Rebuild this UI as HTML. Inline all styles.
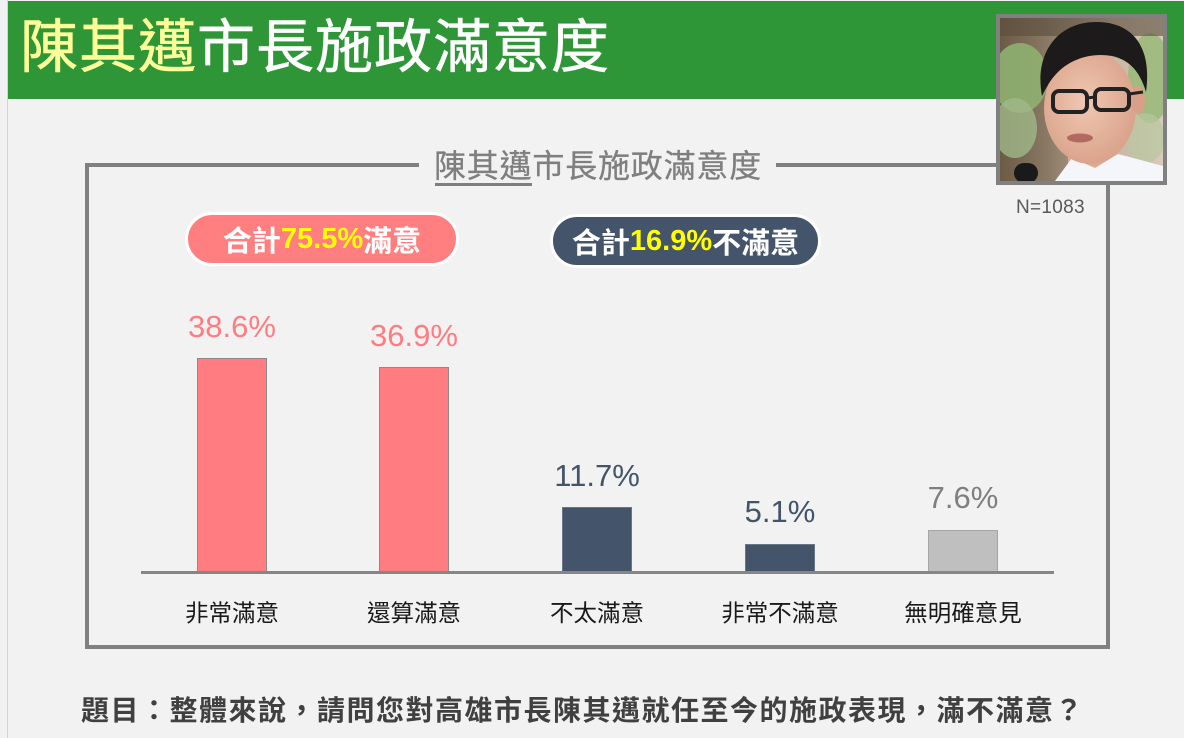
<!DOCTYPE html>
<html><head><meta charset="utf-8">
<style>
*{margin:0;padding:0;box-sizing:border-box}
html,body{width:1184px;height:738px;overflow:hidden;background:#f2f2f2}
body{position:relative;font-family:"Liberation Sans","Noto Sans CJK TC",sans-serif}
.a{position:absolute}
.t{position:absolute;white-space:nowrap;font-family:"Liberation Sans","Noto Sans CJK TC",sans-serif}
.gl{position:absolute;background:#808080}
.bar{position:absolute;width:70px;border:1px solid #8a8a8a;border-bottom:none}
.val{position:absolute;width:140px;text-align:center;font-size:31px;height:40px;line-height:40px;font-family:"Liberation Sans","Noto Sans CJK TC",sans-serif}
.cat{position:absolute;width:180px;text-align:center;font-size:23.5px;height:30px;line-height:30px;color:#1a1a1a;font-family:"Liberation Sans","Noto Sans CJK TC",sans-serif}
.pill{position:absolute;border:3.5px solid #fff;border-radius:30px;display:flex;align-items:center;justify-content:center;color:#fff;font-weight:bold;font-size:29px;font-family:"Liberation Sans","Noto Sans CJK TC",sans-serif}
.y{color:#ffff00}
</style></head>
<body>
<!-- slide left edge -->
<div class="a" style="left:7px;top:0;width:1px;height:738px;background:#d4d4d4"></div>
<!-- green header -->
<div class="a" style="left:8px;top:1px;width:1176px;height:98px;background:#2f9638"></div>
<div class="t" style="left:20px;top:18px;height:60px;line-height:60px;font-size:58px;letter-spacing:1px;color:#fff;-webkit-text-stroke:0.6px #fff"><span style="color:#ffff99;-webkit-text-stroke:0.6px #ffff99">陳其邁</span>市長施政滿意度</div>

<!-- box frame -->
<div class="gl" style="left:85px;top:163px;width:334px;height:4px"></div>
<div class="gl" style="left:776px;top:163px;width:222px;height:4px"></div>
<div class="gl" style="left:85px;top:163px;width:4px;height:486px"></div>
<div class="gl" style="left:85px;top:645px;width:1025px;height:4px"></div>
<div class="gl" style="left:1106px;top:183px;width:4px;height:466px"></div>

<!-- box title -->
<div class="t" style="left:434px;top:146px;height:40px;line-height:40px;font-size:32px;letter-spacing:0.8px;color:#7f7f7f;-webkit-text-stroke:0.3px #7f7f7f">陳其邁市長施政滿意度</div>
<div class="a" style="left:435px;top:183px;width:97px;height:2.5px;background:#7f7f7f"></div>

<!-- photo -->
<div class="a" style="left:996px;top:14px;width:171px;height:171px;background:#808080;padding:4px">
<svg width="163" height="163" viewBox="0 0 163 163" style="display:block">
<defs>
<linearGradient id="bg" x1="0" y1="0" x2="1" y2="0">
<stop offset="0" stop-color="#6b5b45"/><stop offset="0.3" stop-color="#8a7a66"/><stop offset="0.7" stop-color="#c9b6a4"/><stop offset="1" stop-color="#d9cbbb"/>
</linearGradient>
<radialGradient id="face" cx="0.45" cy="0.45" r="0.6">
<stop offset="0" stop-color="#f0c8b2"/><stop offset="1" stop-color="#d9a088"/>
</radialGradient>
</defs>
<rect width="163" height="163" fill="url(#bg)"/>
<ellipse cx="20" cy="60" rx="28" ry="35" fill="#8fb070" opacity="0.9"/>
<ellipse cx="15" cy="110" rx="22" ry="30" fill="#a0b888" opacity="0.8"/>
<ellipse cx="150" cy="60" rx="22" ry="45" fill="#98b878" opacity="0.85"/>
<ellipse cx="145" cy="120" rx="20" ry="25" fill="#b8c8a0" opacity="0.7"/>
<rect x="0" y="0" width="163" height="18" fill="#5a4c3c" opacity="0.6"/>
<!-- neck -->
<rect x="68" y="120" width="50" height="30" fill="#e0aa92"/>
<!-- shirt -->
<polygon points="55,163 72,140 95,150 118,136 163,148 163,163" fill="#f4f6fa"/>
<!-- face -->
<ellipse cx="90" cy="90" rx="46" ry="56" fill="url(#face)"/>
<!-- hair -->
<path d="M42,78 C34,35 58,4 96,4 C134,4 152,30 146,74 C140,54 130,42 112,38 C90,34 70,42 58,54 C50,62 46,70 42,78 Z" fill="#1c1a1a"/>
<ellipse cx="138" cy="82" rx="7" ry="14" fill="#d8a088"/>
<!-- glasses -->
<rect x="53" y="73" width="34" height="21" rx="6" fill="none" stroke="#222" stroke-width="4"/>
<rect x="95" y="71" width="34" height="21" rx="6" fill="none" stroke="#222" stroke-width="4"/>
<line x1="87" y1="80" x2="95" y2="79" stroke="#222" stroke-width="3"/>
<line x1="129" y1="76" x2="143" y2="74" stroke="#222" stroke-width="3"/>
<!-- mouth -->
<ellipse cx="80" cy="120" rx="13" ry="4.5" fill="#b06a60"/>
<!-- mic -->
<rect x="14" y="145" width="24" height="20" rx="10" fill="#1a1a1a"/>
</svg>
</div>
<div class="t" style="left:1016px;top:196px;height:24px;line-height:24px;font-size:19px;letter-spacing:0.3px;color:#595959">N=1083</div>

<!-- pills -->
<div class="pill" style="left:185px;top:212px;width:274px;height:54px;background:#ff7f80">合計<span class="y">75.5%</span>滿意</div>
<div class="pill" style="left:550px;top:214px;width:271px;height:54px;background:#44546a">合計<span class="y">16.9%</span>不滿意</div>

<!-- bars -->
<div class="bar" style="left:197px;top:358px;height:213px;background:#ff7c80"></div>
<div class="bar" style="left:379px;top:367px;height:204px;background:#ff7c80"></div>
<div class="bar" style="left:562px;top:507px;height:64px;background:#44546a;border-color:#6a7688"></div>
<div class="bar" style="left:745px;top:544px;height:27px;background:#44546a;border-color:#6a7688"></div>
<div class="bar" style="left:928px;top:530px;height:41px;background:#bfbfbf;border-color:#a6a6a6"></div>
<!-- baseline -->
<div class="a" style="left:141px;top:571px;width:913px;height:2.5px;background:#868686"></div>

<!-- values -->
<div class="val" style="left:162px;top:307px;color:#ff7c80">38.6%</div>
<div class="val" style="left:344px;top:316px;color:#ff7c80">36.9%</div>
<div class="val" style="left:527px;top:456px;color:#44546a">11.7%</div>
<div class="val" style="left:710px;top:492px;color:#44546a">5.1%</div>
<div class="val" style="left:893px;top:478px;color:#7f7f7f">7.6%</div>

<!-- categories -->
<div class="cat" style="left:142px;top:598px">非常滿意</div>
<div class="cat" style="left:324px;top:598px">還算滿意</div>
<div class="cat" style="left:507px;top:598px">不太滿意</div>
<div class="cat" style="left:690px;top:598px">非常不滿意</div>
<div class="cat" style="left:873px;top:598px">無明確意見</div>

<!-- question -->
<div class="t" style="left:81px;top:692px;height:38px;line-height:38px;font-size:28px;font-weight:bold;letter-spacing:1.5px;color:#404040">題目：整體來說，請問您對高雄市長陳其邁就任至今的施政表現，滿不滿意？</div>
</body></html>
